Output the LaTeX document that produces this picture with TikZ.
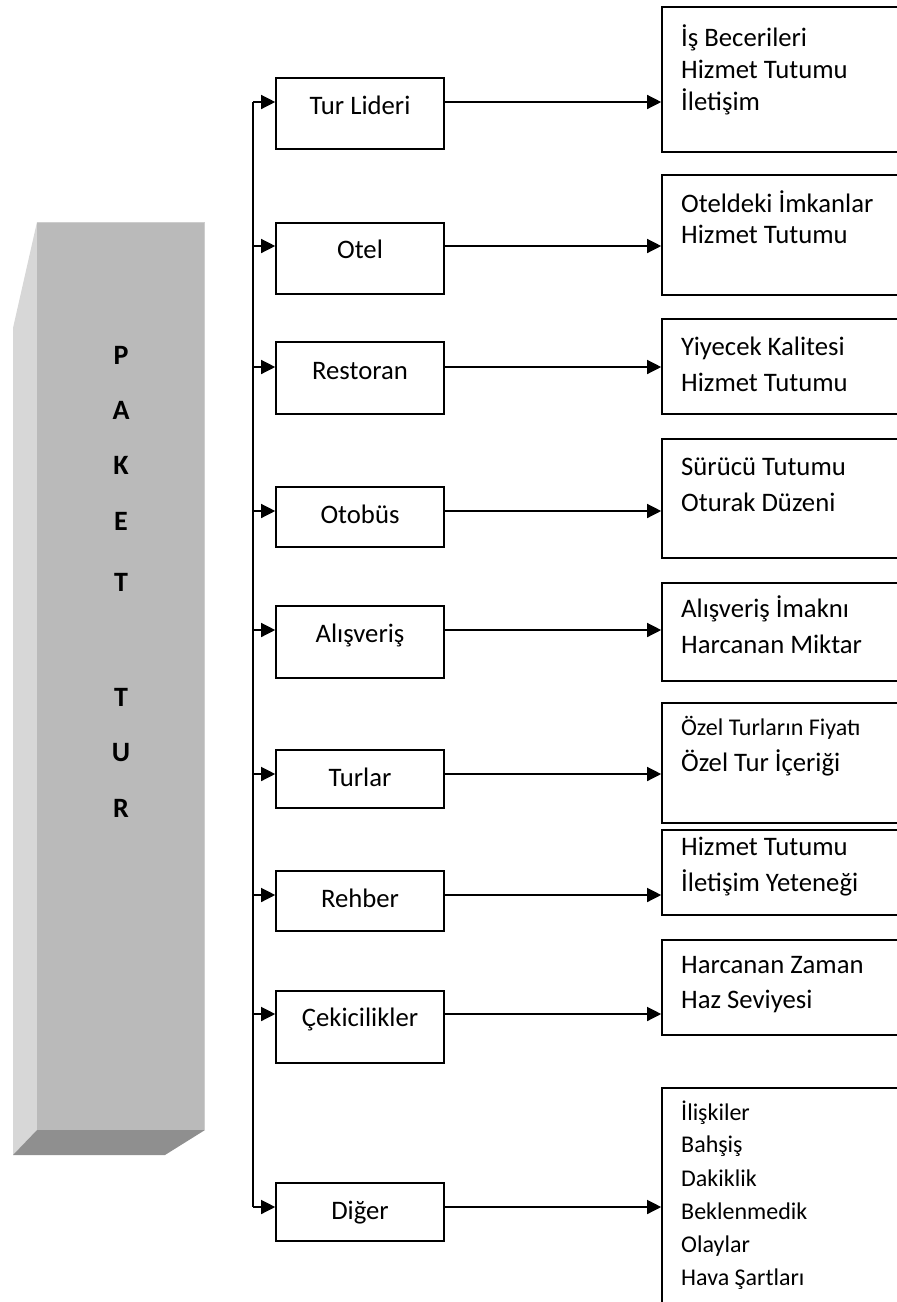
\documentclass[tikz,border=0pt]{standalone}
\usepackage{fontspec}
\setmainfont{Carlito}
\usetikzlibrary{arrows.meta}
\definecolor{faceFront}{HTML}{BABABA}
\definecolor{faceSide}{HTML}{D7D7D7}
\definecolor{faceBottom}{HTML}{8F8F8F}
\definecolor{faceEdge}{HTML}{CDCDCD}
\begin{document}
\begin{tikzpicture}[x=1pt,y=-1pt,
  mbox/.style={draw,line width=1.6pt,minimum width=168pt,inner sep=0pt},
  rbox/.style={draw,line width=1.6pt,minimum width=258pt,inner sep=0pt},
  lbl/.style={font=\fontsize{26.7}{32}\selectfont,anchor=base,inner sep=0pt},
  item/.style={font=\fontsize{26.7}{32}\selectfont,anchor=base west,inner sep=0pt},
  smallitem/.style={font=\fontsize{24}{29}\selectfont,anchor=base west,inner sep=0pt},
  arr/.style={line width=1.3pt,-{Triangle[length=14pt,width=14pt]}},
  letter/.style={font=\fontsize{28}{34}\selectfont\bfseries,anchor=base,inner sep=0pt}
]
\useasboundingbox (0,0) rectangle (897,1302);
\clip (0,0) rectangle (897,1302);

% bevelled block on the left
\fill[faceSide] (37,222) -- (13,328) -- (13,1155) -- (37,1130) -- cycle;
\fill[faceBottom] (37,1130) -- (205,1130) -- (165,1155) -- (13,1155) -- cycle;
\fill[faceFront] (37,222) rectangle (205,1130);
\draw[faceEdge,line width=1.5pt] (37,222.7) -- (204.3,222.7) -- (204.3,1130);
\node[letter] (lP) at (121,364) {P};
\node[letter] (lA) at (121,419) {A};
\node[letter] (lK) at (121,474) {K};
\node[letter] (lE) at (121,530) {E};
\node[letter] (lT) at (121,591) {T};
\node[letter] (lT2) at (121,706) {T};
\node[letter] (lU) at (121,761) {U};
\node[letter] (lR) at (121,817) {R};

% middle column
\node[mbox,minimum height=71pt] (m1) at (360,113.5) {};
\node[mbox,minimum height=71pt] (m2) at (360,258.5) {};
\node[mbox,minimum height=72pt] (m3) at (360,378) {};
\node[mbox,minimum height=60pt] (m4) at (360,517) {};
\node[mbox,minimum height=72pt] (m5) at (360,642) {};
\node[mbox,minimum height=58pt] (m6) at (360,779) {};
\node[mbox,minimum height=60pt] (m7) at (360,901) {};
\node[mbox,minimum height=72pt] (m8) at (360,1027) {};
\node[mbox,minimum height=58pt] (m9) at (360,1212) {};

\node[lbl] (t1) at (360,114) {Tur Lideri};
\node[lbl] (t2) at (360,258) {Otel};
\node[lbl] (t3) at (360,379) {Restoran};
\node[lbl] (t4) at (360,523) {Otobüs};
\node[lbl] (t5) at (360,642) {Alışveriş};
\node[lbl] (t6) at (360,786) {Turlar};
\node[lbl] (t7) at (360,907) {Rehber};
\node[lbl] (t8) at (360,1026) {Çekicilikler};
\node[lbl] (t9) at (360,1219) {Diğer};

% right column
\node[rbox,minimum height=145pt] (r1) at (791,79.5) {};
\node[rbox,minimum height=120pt] (r2) at (791,235) {};
\node[rbox,minimum height=95pt] (r3) at (791,366.5) {};
\node[rbox,minimum height=119pt] (r4) at (791,498.5) {};
\node[rbox,minimum height=98pt] (r5) at (791,632) {};
\node[rbox,minimum height=120pt] (r6) at (791,763) {};
\node[rbox,minimum height=85pt] (r7) at (791,872.5) {};
\node[rbox,minimum height=95pt] (r8) at (791,987.5) {};
\node[rbox,minimum height=252pt] (r9) at (791,1214) {};

\node[item] (a1) at (681,46) {İş Becerileri};
\node[item] (a2) at (681,78) {Hizmet Tutumu};
\node[item] (a3) at (681,110) {İletişim};
\node[item] (b1) at (681,212) {Oteldeki İmkanlar};
\node[item] (b2) at (681,243) {Hizmet Tutumu};
\node[item] (c1) at (681,355) {Yiyecek Kalitesi};
\node[item] (c2) at (681,391) {Hizmet Tutumu};
\node[item] (d1) at (681,475) {Sürücü Tutumu};
\node[item] (d2) at (681,511) {Oturak Düzeni};
\node[item] (e1) at (681,617) {Alışveriş İmaknı};
\node[item] (e2) at (681,653) {Harcanan Miktar};
\node[smallitem] (f1) at (681,735) {Özel Turların Fiyatı};
\node[item] (f2) at (681,771) {Özel Tur İçeriği};
\node[item] (g1) at (681,855) {Hizmet Tutumu};
\node[item] (g2) at (681,891) {İletişim Yeteneği};
\node[item] (h1) at (681,973) {Harcanan Zaman};
\node[item] (h2) at (681,1008) {Haz Seviyesi};
\node[smallitem] (k1) at (681,1120) {İlişkiler};
\node[smallitem] (k2) at (681,1152) {Bahşiş};
\node[smallitem] (k3) at (681,1186) {Dakiklik};
\node[smallitem] (k4) at (681,1219) {Beklenmedik};
\node[smallitem] (k5) at (681,1252) {Olaylar};
\node[smallitem] (k6) at (681,1285) {Hava Şartları};

% junctions on the vertical spine
\coordinate (s1) at (253,102);
\coordinate (s2) at (253,246);
\coordinate (s3) at (253,367);
\coordinate (s4) at (253,511);
\coordinate (s5) at (253,630);
\coordinate (s6) at (253,774);
\coordinate (s7) at (253,895);
\coordinate (s8) at (253,1014);
\coordinate (s9) at (253,1207);

\draw[line width=1.6pt] (s1) -- (s9);
\foreach \i in {1,...,9}{
  \draw[arr] (s\i) -- (s\i -| m\i.west);
  \draw[arr] (s\i -| m\i.east) -- (s\i -| r\i.west);
}
\end{tikzpicture}
\end{document}
